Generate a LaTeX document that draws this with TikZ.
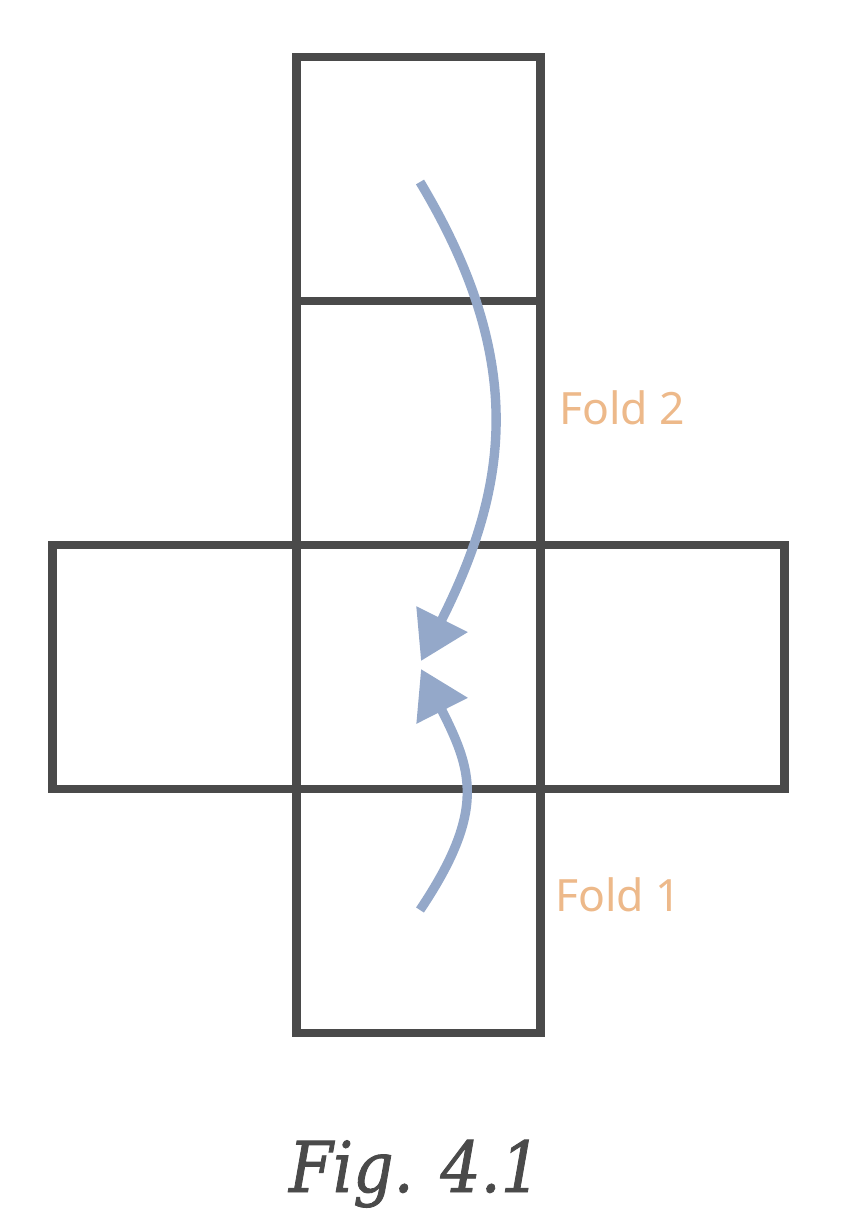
\documentclass[tikz,border=0pt]{standalone}
\usepackage{fontspec}
\setmainfont{DejaVu Serif}
\newfontfamily\labelfont{Noto Sans}
\newfontfamily\captionfont[ItalicFeatures={FakeBold=1.2}]{DejaVu Serif Condensed}
\usetikzlibrary{arrows.meta, positioning}
\definecolor{edgegrey}{HTML}{4A4A4A}
\definecolor{foldblue}{HTML}{94A8C9}
\definecolor{foldorange}{HTML}{EDB98A}
\tikzset{%
	face/.style={draw=edgegrey, line width=7.2pt, minimum size=7.32cm, inner sep=0mm,%
		outer sep=0mm, rectangle},
	fold/.style={draw=foldblue, line width=8pt, -{Triangle[length=40pt, width=47pt]}},
	foldlabel/.style={text=foldorange, font=\labelfont\fontsize{38}{40}\selectfont, inner sep=0mm},
	caption/.style={text=edgegrey, font=\captionfont\itshape\fontsize{60}{64}\selectfont,%
		inner sep=0mm, anchor=base}
}
\begin{document}
\begin{tikzpicture}[x=0.03cm, y=-0.03cm]
	\useasboundingbox (0,0) rectangle (864,1212);
	\node[face] (mid) at (418.5,667) {};
	\node[face, left=0mm of mid] (left) {};
	\node[face, right=0mm of mid] (right) {};
	\node[face, above=0mm of mid] (upper) {};
	\node[face, above=0mm of upper] (top) {};
	\node[face, below=0mm of mid] (bottom) {};

	\coordinate (f2start) at (420,182);
	\coordinate (f2tip) at (421,661);
	\coordinate (f1start) at (420,910);
	\coordinate (f1tip) at (421,669);

	\draw[fold] (f2start) .. controls (528,362) and (508,488) .. (f2tip);
	\draw[fold] (f1start) .. controls (487,810) and (472,770) .. (f1tip);

	\node[foldlabel] (fold2) at (622,408) {Fold 2};
	\node[foldlabel] (fold1) at (618,895) {Fold 1};
	\node[caption] (figcap) at (415,1192) {Fig. 4.1};
\end{tikzpicture}
\end{document}
